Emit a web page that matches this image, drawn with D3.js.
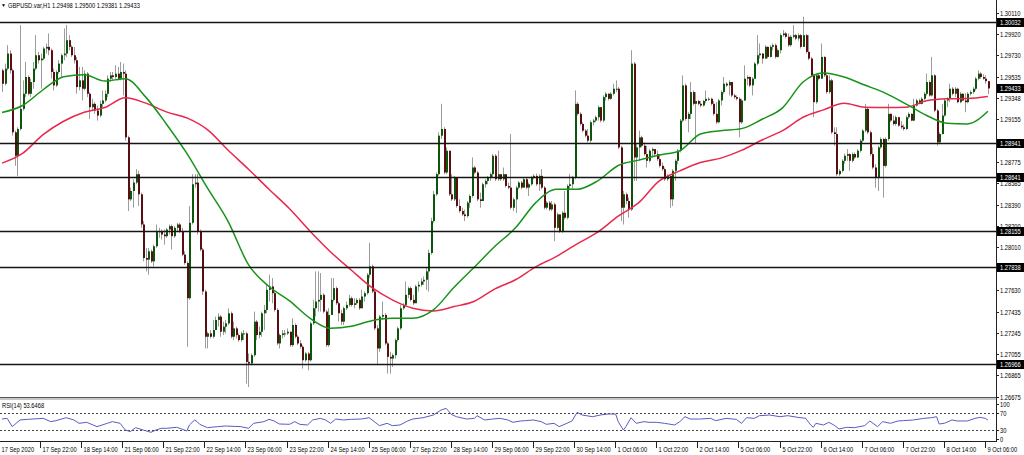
<!DOCTYPE html>
<html><head><meta charset="utf-8">
<script src="https://cdn.jsdelivr.net/npm/d3@7"></script>
<style>
html,body{margin:0;padding:0;background:#fff;}
svg{display:block;}
text{font-family:"Liberation Sans",Arial,sans-serif;font-size:7.2px;fill:#000;}
</style></head><body>
<svg id="c" width="1024" height="455"></svg>
<script>
const symbolTitle = "GBPUSD.var,H1  1.29498 1.29500 1.29381 1.29433";
const rsiTitle = "RSI(14) 53.6468";
const firstOpen = 1.29595;
const close = [
1.29475,1.29610,1.29745,1.29595,1.29040,1.28830,1.29070,1.29250,1.29385,1.29535,
1.29385,1.29490,1.29610,1.29730,1.29685,1.29700,1.29790,1.29805,1.29775,1.29580,
1.29460,1.29580,1.29655,1.29730,1.29745,1.29865,1.29805,1.29730,1.29685,1.29445,
1.29505,1.29430,1.29565,1.29385,1.29265,1.29295,1.29235,1.29190,1.29295,1.29325,
1.29385,1.29520,1.29550,1.29535,1.29565,1.29520,1.29580,1.29565,1.28995,1.28440,
1.28515,1.28590,1.28665,1.28485,1.28215,1.27915,1.27900,1.27975,1.27885,1.28020,
1.28155,1.28155,1.28125,1.28110,1.28170,1.28200,1.28110,1.28185,1.28215,1.28155,
1.27945,1.27870,1.27555,1.28230,1.28575,1.28590,1.28155,1.27990,1.27615,1.27210,
1.27240,1.27210,1.27270,1.27360,1.27390,1.27255,1.27300,1.27330,1.27420,1.27210,
1.27285,1.27225,1.27180,1.27240,1.27240,1.26985,1.26970,1.27045,1.27345,1.27225,
1.27255,1.27420,1.27450,1.27630,1.27660,1.27600,1.27450,1.27150,1.27225,1.27240,
1.27240,1.27255,1.27135,1.27315,1.27210,1.27150,1.27120,1.27000,1.27060,1.27000,
1.27330,1.27465,1.27525,1.27540,1.27585,1.27435,1.27135,1.27405,
1.27540,1.27645,1.27510,1.27420,1.27345,1.27465,1.27495,1.27555,1.27495,1.27510,
1.27540,1.27465,1.27570,1.27600,1.27765,1.27840,1.27615,1.27285,1.27105,1.27390,
1.27405,1.27150,1.27030,1.27015,1.27045,1.27180,1.27285,1.27465,1.27495,1.27585,
1.27645,1.27540,1.27510,1.27660,1.27675,1.27705,1.27720,1.27795,1.27960,1.28245,
1.28485,1.28665,1.29010,1.29070,1.28680,1.28875,1.28485,1.28440,1.28635,1.28380,
1.28335,1.28305,1.28290,1.28410,1.28470,1.28725,1.28680,1.28440,1.28425,1.28575,
1.28605,1.28635,1.28665,1.28830,1.28620,1.28665,1.28620,1.28665,1.28560,1.28545,
1.28365,1.28440,1.28545,1.28590,1.28545,1.28620,1.28545,1.28575,1.28635,1.28650,
1.28575,1.28650,1.28545,1.28365,1.28410,1.28350,1.28395,1.28185,1.28305,1.28155,
1.28320,1.28275,1.28560,1.28575,1.28635,1.29295,1.29205,1.29115,1.29055,1.29010,
1.28965,1.29130,1.29145,1.29175,1.29265,1.29145,1.29355,1.29385,1.29340,1.29385,
1.29430,1.29430,1.28905,1.28365,1.28485,1.28425,1.28350,1.29655,1.28815,1.28905,
1.28995,1.28920,1.28845,1.28785,1.28875,1.28890,1.28845,1.28800,1.28740,
1.28710,1.28620,1.28650,1.28440,1.28695,1.28785,1.28875,1.29145,1.29460,1.29160,
1.29205,1.29400,1.29295,1.29320,1.29295,1.29280,1.29320,1.29340,1.29340,1.29295,
1.29205,1.29130,1.29325,1.29400,1.29475,1.29460,1.29490,1.29370,1.29355,1.29340,
1.29130,1.29325,1.29520,1.29535,1.29460,1.29520,1.29655,1.29730,1.29745,1.29700,
1.29805,1.29715,1.29805,1.29820,1.29715,1.29775,1.29910,1.29925,1.29895,1.29820,
1.29895,1.29910,1.29880,1.29910,1.29805,1.29910,1.29760,1.29700,1.29550,1.29310,
1.29550,1.29520,1.29715,1.29550,1.29400,1.29505,1.29040,1.29025,1.28665,1.28695,
1.28785,1.28830,1.28845,1.28785,1.28845,1.28815,1.28875,1.28965,1.29055,1.29250,
1.29040,1.28845,1.28725,1.28635,1.28905,1.28980,1.28740,1.28980,1.29205,1.29145,
1.29115,1.29175,1.29100,1.29085,1.29070,1.29175,1.29205,1.29145,1.29280,1.29325,
1.29295,1.29340,1.29385,1.29490,1.29370,1.29550,1.29235,1.28950,1.29025,1.29190,
1.29325,1.29340,1.29430,1.29385,1.29430,1.29310,1.29385,1.29325,1.29310,1.29385,
1.29400,1.29430,1.29520,1.29565,1.29535,1.29520,1.29498,1.29433];
const high = [
1.29610,1.29655,1.29820,1.29775,1.29610,1.29055,1.29085,1.30000,1.29505,1.29670,
1.29550,1.29520,1.29670,1.29910,1.29760,1.29745,1.29805,1.29835,1.29925,1.29790,
1.29610,1.29595,1.29685,1.29745,1.29970,1.30000,1.29910,1.29820,1.29805,1.29715,
1.29625,1.29625,1.29595,1.29580,1.29400,1.29340,1.29310,1.29280,1.29325,1.29415,
1.29415,1.29550,1.29580,1.29580,1.29640,1.29625,1.29670,1.29655,1.29595,1.29010,
1.28545,1.28620,1.28710,1.28695,1.28500,1.28245,1.28005,1.28005,1.27990,1.28035,
1.28215,1.28185,1.28170,1.28170,1.28185,1.28215,1.28215,1.28200,1.28230,1.28230,
1.28185,1.27975,1.27885,1.28380,1.28665,1.28665,1.28665,1.28170,1.28005,1.27630,
1.27255,1.27270,1.27360,1.27390,1.27420,1.27405,1.27345,1.27360,1.27465,1.27435,
1.27345,1.27300,1.27240,1.27255,1.27270,1.27255,1.27060,1.27060,1.27435,1.27360,
1.27300,1.27435,1.27495,1.27675,1.27765,1.27735,1.27615,1.27465,1.27240,1.27270,
1.27270,1.27285,1.27255,1.27375,1.27330,1.27225,1.27180,1.27135,1.27075,1.27075,
1.27345,1.27540,1.27795,1.27795,1.27780,1.27600,1.27450,1.27465,
1.27735,1.27735,1.27660,1.27525,1.27450,1.27480,1.27525,1.27585,1.27570,1.27555,
1.27555,1.27555,1.27630,1.27615,1.27780,1.28050,1.27855,1.27630,1.27315,1.27405,
1.27525,1.27420,1.27165,1.27075,1.27060,1.27195,1.27300,1.27495,1.27510,1.27705,
1.27660,1.27660,1.27585,1.27675,1.27705,1.27735,1.27750,1.27825,1.27990,1.28275,
1.28515,1.28680,1.29040,1.29295,1.29085,1.28905,1.28860,1.28665,1.28650,1.28635,
1.28440,1.28365,1.28350,1.28425,1.28485,1.28815,1.28740,1.28695,1.28500,1.28590,
1.28620,1.28650,1.28680,1.28845,1.28845,1.28875,1.28665,1.28725,1.28665,1.28590,
1.29025,1.28455,1.28560,1.28605,1.28605,1.28635,1.28635,1.28590,1.28650,1.28665,
1.28670,1.28665,1.28710,1.28560,1.28425,1.28425,1.28425,1.28410,1.28320,1.28305,
1.28335,1.28515,1.28575,1.28665,1.28650,1.29415,1.29310,1.29220,1.29130,1.29070,
1.29070,1.29145,1.29160,1.29190,1.29280,1.29265,1.29370,1.29400,1.29390,1.29400,
1.29475,1.29505,1.29445,1.28920,1.28515,1.28500,1.28455,1.29775,1.29670,1.28935,
1.29055,1.29010,1.28950,1.28920,1.28890,1.28905,1.28890,1.28875,1.28845,
1.28770,1.28725,1.28665,1.28650,1.28710,1.28800,1.28890,1.29160,1.29550,1.29475,
1.29220,1.29490,1.29415,1.29400,1.29330,1.29320,1.29330,1.29415,1.29355,1.29350,
1.29320,1.29310,1.29340,1.29415,1.29535,1.29490,1.29505,1.29490,1.29385,1.29370,
1.29355,1.29340,1.29640,1.29550,1.29540,1.29535,1.29670,1.29910,1.29835,1.29750,
1.29820,1.29810,1.29820,1.29835,1.29835,1.29790,1.29925,1.29955,1.29940,1.29925,
1.29910,1.30000,1.29920,1.29925,1.29920,1.30075,1.29920,1.29910,1.29715,1.29565,
1.29565,1.29565,1.29835,1.29720,1.29565,1.29550,1.29520,1.29085,1.29085,1.28710,
1.28800,1.28850,1.28890,1.28850,1.28860,1.28860,1.28890,1.28980,1.29070,1.29295,
1.29265,1.29055,1.28905,1.28755,1.28920,1.28995,1.28990,1.28995,1.29295,1.29210,
1.29190,1.29190,1.29180,1.29140,1.29110,1.29190,1.29220,1.29210,1.29340,1.29340,
1.29340,1.29355,1.29400,1.29565,1.29505,1.29715,1.29560,1.29250,1.29040,1.29295,
1.29340,1.29355,1.29475,1.29445,1.29445,1.29440,1.29400,1.29390,1.29390,1.29400,
1.29415,1.29445,1.29535,1.29595,1.29580,1.29560,1.29550,1.29500];
const low = [
1.29400,1.29460,1.29595,1.29565,1.29010,1.28740,1.28650,1.29055,1.29235,1.29355,
1.29370,1.29355,1.29430,1.29595,1.29655,1.29430,1.29685,1.29745,1.29730,1.29520,
1.29415,1.29445,1.29565,1.29535,1.29685,1.29715,1.29775,1.29715,1.29655,1.29385,
1.29415,1.29325,1.29415,1.29355,1.29160,1.29235,1.29205,1.29145,1.29175,1.29265,
1.29310,1.29355,1.29490,1.29505,1.29520,1.29505,1.29505,1.29370,1.28965,1.28335,
1.28425,1.28365,1.28575,1.28380,1.28185,1.27885,1.27795,1.27765,1.27870,1.27840,
1.28005,1.28095,1.28080,1.28035,1.28095,1.28125,1.27990,1.28095,1.28155,1.28140,
1.27930,1.27855,1.27120,1.27540,1.28215,1.28545,1.28125,1.27975,1.27585,1.27105,
1.27105,1.27195,1.27195,1.27285,1.27300,1.27210,1.27225,1.27240,1.27315,1.27195,
1.27180,1.27195,1.27165,1.27165,1.27180,1.26790,1.26760,1.26955,1.27030,1.27180,
1.27195,1.27210,1.27270,1.27420,1.27525,1.27510,1.27435,1.27135,1.27105,1.27195,
1.27210,1.27225,1.27120,1.27120,1.27195,1.27135,1.27105,1.26925,1.26985,1.26910,
1.26985,1.27315,1.27390,1.27435,1.27435,1.27420,1.27120,1.27120,
1.27405,1.27525,1.27495,1.27345,1.27315,1.27315,1.27450,1.27480,1.27480,1.27465,
1.27495,1.27450,1.27465,1.27525,1.27585,1.27735,1.27600,1.27270,1.26955,1.27075,
1.27360,1.27135,1.26880,1.26880,1.26940,1.27015,1.27165,1.27270,1.27450,1.27480,
1.27555,1.27525,1.27495,1.27510,1.27615,1.27660,1.27675,1.27630,1.27615,1.27945,
1.28230,1.28470,1.28650,1.28980,1.28665,1.28665,1.28470,1.28425,1.28425,1.28365,
1.28320,1.28290,1.28245,1.28275,1.28365,1.28455,1.28665,1.28425,1.28365,1.28470,
1.28545,1.28575,1.28605,1.28635,1.28605,1.28605,1.28605,1.28605,1.28545,1.28530,
1.28350,1.28335,1.28320,1.28530,1.28530,1.28545,1.28530,1.28470,1.28560,1.28620,
1.28560,1.28515,1.28530,1.28350,1.28350,1.28335,1.28335,1.28065,1.28170,1.28140,
1.28140,1.28260,1.28260,1.28530,1.28530,1.28620,1.29190,1.29100,1.29040,1.28995,
1.28950,1.28950,1.29100,1.29130,1.29145,1.29130,1.29130,1.29325,1.29325,1.29330,
1.29370,1.29400,1.28890,1.28245,1.28215,1.28395,1.28275,1.28335,1.28605,1.28605,
1.28785,1.28905,1.28830,1.28725,1.28770,1.28815,1.28830,1.28785,1.28725,
1.28695,1.28605,1.28605,1.28365,1.28380,1.28605,1.28755,1.28860,1.29130,1.29145,
1.29040,1.29160,1.29280,1.28935,1.29280,1.29265,1.29270,1.29300,1.29320,1.29280,
1.29190,1.29115,1.29120,1.29280,1.29385,1.29445,1.29370,1.29355,1.29340,1.29325,
1.28995,1.29115,1.29320,1.29460,1.29445,1.29370,1.29520,1.29640,1.29700,1.29655,
1.29700,1.29700,1.29710,1.29775,1.29700,1.29710,1.29745,1.29895,1.29880,1.29805,
1.29805,1.29880,1.29865,1.29860,1.29790,1.29805,1.29745,1.29685,1.29535,1.29175,
1.29295,1.29505,1.29520,1.29535,1.29385,1.29385,1.29025,1.28920,1.28650,1.28650,
1.28680,1.28760,1.28785,1.28695,1.28770,1.28800,1.28810,1.28860,1.28950,1.29040,
1.29025,1.28830,1.28710,1.28545,1.28515,1.28890,1.28455,1.28725,1.28965,1.29130,
1.29100,1.29100,1.29090,1.29070,1.29055,1.29060,1.29160,1.29140,1.29140,1.29270,
1.29290,1.29290,1.29325,1.29370,1.29360,1.29360,1.29220,1.28920,1.28940,1.29020,
1.29180,1.29265,1.29310,1.29370,1.29355,1.29300,1.29300,1.29320,1.29220,1.29300,
1.29370,1.29385,1.29415,1.29505,1.29520,1.29510,1.29475,1.29381];

// moving averages, read every 8 bars
const maBars = [0,8,16,24,32,40,48,56,64,72,80,88,96,104,112,120,128,136,144,152,160,168,176,184,192,200,208,216,224,232,240,248,256,264,272,280,288,296,304,312,320,328,336,344,352,360,368,376,384];
const maFast = [1.29217,1.29280,1.29421,1.29538,1.29556,1.29499,1.29520,1.29355,1.29115,1.28851,1.28542,1.28245,1.27855,1.27660,1.27531,1.27375,1.27285,1.27303,1.27354,1.27375,1.27375,1.27450,1.27651,1.27834,1.28020,1.28185,1.28413,1.28530,1.28530,1.28605,1.28743,1.28791,1.28836,1.28875,1.29025,1.29055,1.29073,1.29157,1.29259,1.29490,1.29571,1.29535,1.29463,1.29391,1.29295,1.29193,1.29121,1.29115,1.29229];
const maSlow = [1.28764,1.28851,1.29019,1.29139,1.29220,1.29262,1.29349,1.29301,1.29223,1.29169,1.29064,1.28881,1.28710,1.28530,1.28356,1.28155,1.27969,1.27807,1.27651,1.27540,1.27465,1.27441,1.27480,1.27528,1.27639,1.27720,1.27837,1.27930,1.28041,1.28146,1.28290,1.28410,1.28605,1.28695,1.28770,1.28809,1.28878,1.28971,1.29055,1.29175,1.29241,1.29301,1.29265,1.29262,1.29265,1.29322,1.29340,1.29343,1.29361];

const rsiBars = [0,2,4,7,10,12,16,19,21,25,28,30,33,37,41,43,46,48,50,52,55,58,60,62,64,68,70,72,73,75,76,77,80,84,87,93,96,98,102,104,106,108,112,114,116,119,121,124,126,128,130,133,136,140,143,145,147,150,152,155,158,160,164,168,171,173,175,177,181,184,185,188,191,194,197,199,202,204,207,210,212,215,217,220,222,224,226,230,233,236,239,240,242,243,245,247,250,252,255,258,262,264,266,268,272,276,278,282,286,288,290,293,295,299,303,306,310,313,315,316,317,320,322,324,326,329,332,336,338,341,343,346,349,351,355,359,362,364,365,367,370,372,376,379,381,383,384];
const rsiVals = [56.3,57.9,38.0,54.0,55.5,56.3,57.9,50.0,52.4,59.5,54.0,46.0,48.4,38.0,46.0,50.0,46.0,30.0,26.0,35.6,30.0,24.4,30.0,34.0,34.0,36.4,32.4,27.6,42.0,54.0,50.0,43.6,35.6,38.0,39.6,38.0,34.0,46.0,50.0,55.5,51.6,44.4,43.6,50.0,43.6,42.0,54.0,57.9,54.0,46.0,56.3,54.0,55.5,56.3,59.5,50.0,40.4,46.0,40.4,42.0,51.6,56.3,59.5,65.9,77.9,81.9,67.5,61.9,56.3,57.9,64.3,54.0,56.3,57.9,54.0,48.4,51.6,52.4,54.0,50.0,43.6,46.0,38.0,46.0,51.6,72.3,65.9,61.9,65.9,68.3,68.3,50.0,30.0,38.0,59.5,46.0,50.0,48.4,48.4,46.0,42.0,50.0,61.9,56.3,56.3,57.9,52.4,57.9,55.5,46.0,59.5,57.9,64.3,65.9,61.9,64.3,60.3,57.9,42.0,36.4,46.0,42.0,48.4,42.0,32.4,36.4,35.6,40.4,51.6,38.0,50.0,46.0,51.6,52.4,54.0,57.9,59.5,61.9,44.4,46.0,54.0,51.6,51.6,57.9,60.3,57.9,53.6468];

const levels = [1.30032,1.28941,1.28641,1.28155,1.27838,1.26966];
const lastPrice = 1.29433;
const priceTicks = ["1.30110","1.29920","1.29730","1.29535","1.29348","1.29155","1.28775","1.28585","1.28390","1.28200","1.28010","1.27630","1.27435","1.27245","1.27055","1.26865","1.26675"];
const rsiLevels = [70,30];
const rsiTicks = ["100","70","30","0"];
const xLabels = ["17 Sep 2020","17 Sep 22:00","18 Sep 14:00","21 Sep 06:00","21 Sep 22:00","22 Sep 14:00","23 Sep 06:00","23 Sep 22:00","24 Sep 14:00","25 Sep 06:00","27 Sep 22:00","28 Sep 14:00","29 Sep 06:00","29 Sep 22:00","30 Sep 14:00","1 Oct 06:00","1 Oct 22:00","2 Oct 14:00","5 Oct 06:00","5 Oct 22:00","6 Oct 14:00","7 Oct 06:00","7 Oct 22:00","8 Oct 14:00","9 Oct 06:00"];
const barsPerLabel = 16;

const svg = d3.select('#c');
const AX = 996;
const SX = 0.8; // narrow terminal font
const x = d3.scaleLinear().domain([0, close.length-1]).range([2, 2 + (close.length-1)*2.5675]);
const y = d3.scaleLinear().domain([1.26966, 1.30032]).range([364, 21.5]);
const yR = d3.scaleLinear().domain([0, 100]).range([442.5, 400.8]);

function label(parent, tx, ty, s, color, centered){
  const t = parent.append('text')
    .attr('transform', `translate(${tx},${ty}) scale(${SX},1)`)
    .text(s);
  if (centered) t.attr('dy','0.35em');
  if (color) t.style('fill', color);
  return t;
}

const defs = svg.append('defs');
defs.append('clipPath').attr('id','mc').append('rect').attr('x',0).attr('y',0).attr('width',AX).attr('height',397);
defs.append('clipPath').attr('id','rc').append('rect').attr('x',0).attr('y',400).attr('width',AX).attr('height',41);

const bars = close.map((c,i)=>{
  const o = i===0 ? firstOpen : close[i-1];
  return {i, o, c, h: Math.max(high[i], o, c), l: Math.min(low[i], o, c)};
});

const main = svg.append('g').attr('clip-path','url(#mc)');
const cx = d => Math.round(x(d.i));
main.append('g').selectAll('line').data(bars).join('line')
  .attr('x1', d=>cx(d)+0.5).attr('x2', d=>cx(d)+0.5)
  .attr('y1', d=>y(d.h)).attr('y2', d=>y(d.l))
  .attr('stroke', '#9c9c9c').attr('stroke-width', 1);
main.append('g').selectAll('rect').data(bars).join('rect')
  .attr('x', d=>cx(d)).attr('width', 2)
  .attr('y', d=>y(Math.max(d.o,d.c)))
  .attr('height', d=>Math.max(1, Math.abs(y(d.o)-y(d.c))))
  .attr('fill', d=> d.c>=d.o ? '#0b560b' : '#5a0e12');

const maLine = d3.line().x((d,k)=>x(maBars[k])).y(d=>y(d)).curve(d3.curveMonotoneX);
main.append('path').attr('d', maLine(maSlow)).attr('fill','none').attr('stroke','#e8294d').attr('stroke-width',1.5);
main.append('path').attr('d', maLine(maFast)).attr('fill','none').attr('stroke','#17931a').attr('stroke-width',1.5);

main.append('g').selectAll('line').data(levels).join('line')
  .attr('x1',0).attr('x2',AX).attr('y1',d=>Math.round(y(d))+0.5).attr('y2',d=>Math.round(y(d))+0.5)
  .attr('stroke','#151515').attr('stroke-width',1.6);

// header
svg.append('text').attr('x',1).attr('y',7).style('font-size','5px').text('\u25BC');
label(svg, 8, 7.5, symbolTitle);

// panel separator
svg.append('rect').attr('x',0).attr('y',397).attr('width',AX).attr('height',3).attr('fill','#c8c8c8');
svg.append('line').attr('x1',0).attr('x2',AX).attr('y1',397.5).attr('y2',397.5).attr('stroke','#555').attr('stroke-width',1);

// RSI panel
const rg = svg.append('g').attr('clip-path','url(#rc)');
rg.selectAll('line').data(rsiLevels).join('line')
  .attr('x1',0).attr('x2',AX).attr('y1',d=>Math.round(yR(d))+0.5).attr('y2',d=>Math.round(yR(d))+0.5)
  .attr('stroke','#444').attr('stroke-dasharray','2,2').attr('stroke-width',1);
const rsiLine = d3.line().x((d,k)=>x(rsiBars[k])).y(d=>yR(d));
rg.append('path').attr('d', rsiLine(rsiVals)).attr('fill','none').attr('stroke','#5b5bc4').attr('stroke-width',1);
label(svg, 2, 408, rsiTitle);
svg.append('line').attr('x1',0).attr('x2',AX).attr('y1',441.5).attr('y2',441.5).attr('stroke','#222').attr('stroke-width',1);

// right axis
svg.append('line').attr('x1',AX+0.5).attr('x2',AX+0.5).attr('y1',0).attr('y2',442).attr('stroke','#222').attr('stroke-width',1);
const ra = svg.append('g');
priceTicks.forEach(t=>{
  const yy = Math.round(y(+t))+0.5;
  ra.append('line').attr('x1',AX).attr('x2',AX+3).attr('y1',yy).attr('y2',yy).attr('stroke','#222');
  label(ra, 1000, yy, t, null, true);
});
[...levels, lastPrice].forEach(v=>{
  const yy = Math.round(y(v))+0.5;
  ra.append('rect').attr('x',AX+1).attr('y',yy-4.5).attr('width',28).attr('height',9).attr('fill','#000');
  label(ra, 1000, yy, v.toFixed(5), '#fff', true);
});
rsiTicks.forEach(t=>{
  const v = +t;
  const yy = Math.min(439, Math.max(404, yR(v)));
  ra.append('line').attr('x1',AX).attr('x2',AX+3).attr('y1',Math.round(yy)+0.5).attr('y2',Math.round(yy)+0.5).attr('stroke','#222');
  label(ra, 1000, yy, t, null, true);
});

// x axis
const xa = svg.append('g');
xLabels.forEach((t,k)=>{
  const xx = Math.round(x(k*barsPerLabel)) - 3 + 0.5;
  xa.append('line').attr('x1',xx).attr('x2',xx).attr('y1',442).attr('y2',448).attr('stroke','#222');
  label(xa, xx+2, 452, t);
});
</script>
</body></html>
